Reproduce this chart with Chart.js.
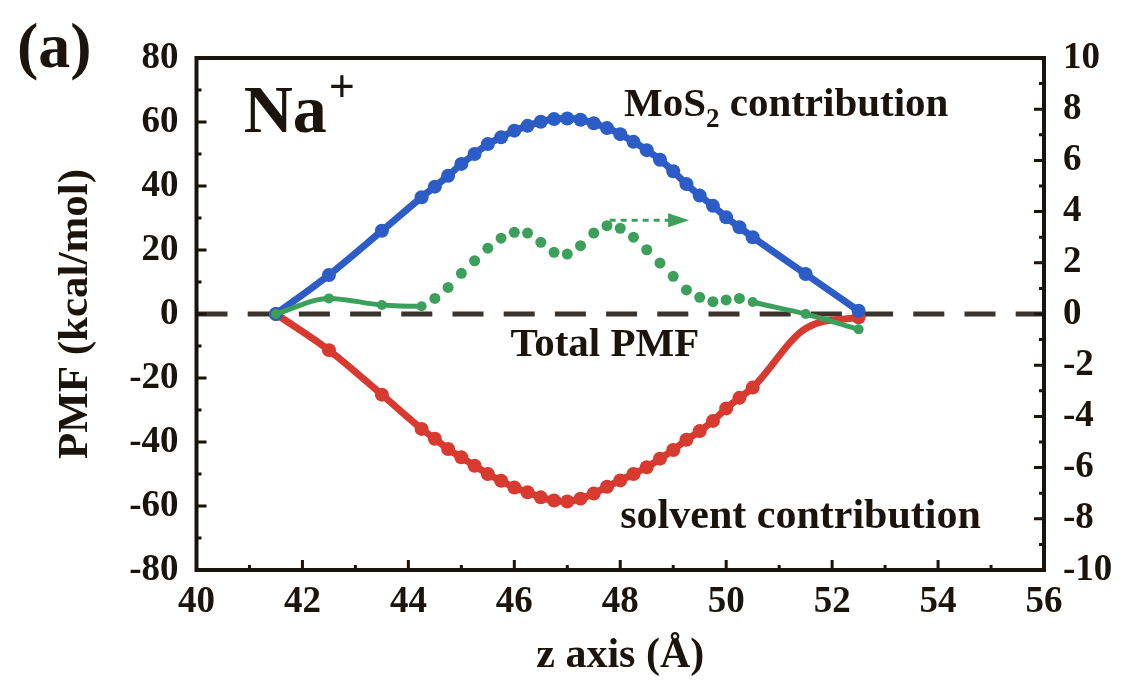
<!DOCTYPE html>
<html>
<head>
<meta charset="utf-8">
<script src="https://cdn.jsdelivr.net/npm/chart.js@4.4.1/dist/chart.umd.min.js"></script>
<style>
  html, body { margin: 0; padding: 0; background: #fff; }
  canvas { display: block; }
</style>
</head>
<body>
<canvas id="pmf" width="1144" height="687"></canvas>
<script>
// positions z (Å) des fenêtres
const zPos = [
  41.5, 42.5, 43.5, 44.25, 44.5, 44.75, 45.0, 45.25, 45.5, 45.75, 46.0,
  46.25, 46.5, 46.75, 47.0, 47.25, 47.5, 47.75, 48.0, 48.25, 48.5, 48.75,
  49.0, 49.25, 49.5, 49.75, 50.0, 50.25, 50.5, 51.5, 52.5
];
// contribution MoS2 (kcal/mol, axe gauche)
const mos2Contrib = [
  0, 12.2, 26.0, 36.5, 39.8, 43.2, 46.9, 50.0, 53.1, 55.2, 57.3,
  58.8, 60.1, 60.9, 61.1, 60.7, 59.6, 58.1, 56.2, 53.8, 51.2, 48.2,
  44.6, 40.6, 37.0, 33.8, 30.2, 27.1, 24.0, 12.5, 1.0
];
// contribution solvant (kcal/mol, axe gauche)
const solventContrib = [
  0, -11.3, -25.2, -35.9, -39.0, -42.2, -44.8, -47.4, -50.0, -52.1, -54.2,
  -55.7, -57.3, -58.3, -58.6, -57.7, -56.1, -54.0, -52.0, -50.0, -47.9, -45.2,
  -42.5, -39.3, -36.6, -33.4, -29.5, -26.2, -23.0, -4.5, -1.0
];
// PMF total (kcal/mol, axe droit)
const totalPmf = [
  0, 0.61, 0.35, 0.30, 0.61, 1.04, 1.59, 2.08, 2.57, 2.96, 3.19,
  3.16, 2.80, 2.41, 2.34, 2.67, 3.16, 3.45, 3.35, 3.00, 2.51, 1.99,
  1.47, 0.94, 0.65, 0.48, 0.55, 0.61, 0.47, 0, -0.60
];
// partie en pointillés du PMF total (points seuls)
const totalDotRange = [44.25, 50.5];
// point du solvant sans marqueur visible
const solventHidden = [51.5];

const xTicks = [40, 42, 44, 46, 48, 50, 52, 54, 56];
const yTicks = [-80, -60, -40, -20, 0, 20, 40, 60, 80];
const y2Ticks = [-10, -8, -6, -4, -2, 0, 2, 4, 6, 8, 10];

const FONT = "'Liberation Serif', 'Times New Roman', serif";
const INK = '#1b140d';
const BLUE = '#2c5cc6';
const RED = '#d83a30';
const GREEN = '#3ca05a';

const pts = vals => zPos.map((z, i) => ({ x: z, y: vals[i] }));
const inDots = z => z >= totalDotRange[0] && z <= totalDotRange[1];
const setTicks = list => s => { s.ticks = list.map(v => ({ value: v })); };

const tickFont = { family: FONT, size: 37, weight: 'bold' };

/** cadre, graduations internes, tirets à zéro, flèche et textes */
const decor = {
  id: 'decor',
  beforeDatasetsDraw(chart) {
    const { ctx, chartArea: a, scales: { y } } = chart;
    const y0 = y.getPixelForValue(0);
    ctx.save();
    ctx.strokeStyle = '#3a342d';
    ctx.lineWidth = 5;
    ctx.setLineDash([31, 20.2]);
    ctx.beginPath();
    ctx.moveTo(a.left, y0);
    ctx.lineTo(a.right, y0);
    ctx.stroke();
    ctx.restore();
  },
  afterDatasetsDraw(chart) {
    const { ctx, scales: { x, y2 } } = chart;
    // flèche vers l'axe de droite
    const x1 = x.getPixelForValue(47.8), x2 = x.getPixelForValue(49.3);
    const ya = y2.getPixelForValue(3.66);
    ctx.save();
    ctx.strokeStyle = GREEN;
    ctx.fillStyle = GREEN;
    ctx.lineWidth = 3;
    ctx.setLineDash([6, 5]);
    ctx.beginPath();
    ctx.moveTo(x1, ya);
    ctx.lineTo(x2 - 18, ya);
    ctx.stroke();
    ctx.setLineDash([]);
    ctx.beginPath();
    ctx.moveTo(x2, ya);
    ctx.lineTo(x2 - 21, ya - 7);
    ctx.lineTo(x2 - 21, ya + 7);
    ctx.closePath();
    ctx.fill();
    ctx.restore();
  },
  afterDraw(chart) {
    const { ctx, chartArea: a, scales: { x, y, y2 } } = chart;
    ctx.save();
    ctx.strokeStyle = INK;
    ctx.lineWidth = 4;
    ctx.strokeRect(a.left, a.top, a.right - a.left, a.bottom - a.top);

    ctx.lineWidth = 3;
    const marks = (scale, draw) => {
      const v = scale.ticks.map(t => t.value);
      v.forEach((val, i) => {
        draw(scale.getPixelForValue(val), 10);
        if (i < v.length - 1) draw(scale.getPixelForValue((val + v[i + 1]) / 2), 5);
      });
    };
    ctx.beginPath();
    marks(y, (p, l) => { ctx.moveTo(a.left, p); ctx.lineTo(a.left + l, p); });
    marks(y2, (p, l) => { ctx.moveTo(a.right, p); ctx.lineTo(a.right - l, p); });
    marks(x, (p, l) => { ctx.moveTo(p, a.bottom); ctx.lineTo(p, a.bottom - l); });
    ctx.stroke();

    // textes
    ctx.fillStyle = INK;
    ctx.textBaseline = 'alphabetic';
    ctx.textAlign = 'left';

    ctx.font = `bold 64px ${FONT}`;
    ctx.fillText('(a)', 17, 67);

    let px = x.getPixelForValue(40.89), py = y.getPixelForValue(56.9);
    ctx.font = `bold 68px ${FONT}`;
    ctx.fillText('Na', px, py);
    px += ctx.measureText('Na').width + 2;
    ctx.font = `bold 46px ${FONT}`;
    ctx.fillText('+', px, py - 30);

    px = x.getPixelForValue(48.07); py = y.getPixelForValue(61.9);
    ctx.font = `bold 41px ${FONT}`;
    ctx.fillText('MoS', px, py);
    px += ctx.measureText('MoS').width;
    ctx.font = `bold 27px ${FONT}`;
    ctx.fillText('2', px, py + 11);
    px += ctx.measureText('2').width;
    ctx.font = `bold 41px ${FONT}`;
    ctx.fillText(' contribution', px, py);

    ctx.fillText('Total PMF', x.getPixelForValue(45.93), y.getPixelForValue(-13.1));
    ctx.font = `bold 42px ${FONT}`;
    ctx.fillText('solvent contribution', x.getPixelForValue(48.0), y.getPixelForValue(-66.9));
    ctx.restore();
  }
};

new Chart(document.getElementById('pmf'), {
  type: 'line',
  data: {
    datasets: [
      {
        label: 'Total PMF',
        data: pts(totalPmf),
        yAxisID: 'y2',
        borderColor: GREEN,
        backgroundColor: GREEN,
        borderWidth: 5,
        pointRadius: c => {
          const z = zPos[c.dataIndex];
          return z > totalDotRange[0] && z < totalDotRange[1] ? 5.5 : 5;
        },
        pointBorderWidth: 0,
        cubicInterpolationMode: 'monotone',
        segment: {
          borderColor: c => inDots(c.p0.parsed.x) && inDots(c.p1.parsed.x) ? 'transparent' : GREEN
        }
      },
      {
        label: 'MoS2 contribution',
        data: pts(mos2Contrib),
        yAxisID: 'y',
        borderColor: BLUE,
        backgroundColor: BLUE,
        borderWidth: 7,
        pointRadius: 7,
        pointBorderWidth: 0,
        cubicInterpolationMode: 'monotone'
      },
      {
        label: 'solvent contribution',
        data: pts(solventContrib),
        yAxisID: 'y',
        borderColor: RED,
        backgroundColor: RED,
        borderWidth: 7,
        pointRadius: zPos.map(z => solventHidden.includes(z) ? 0 : 7),
        pointBorderWidth: 0,
        cubicInterpolationMode: 'monotone'
      }
    ]
  },
  options: {
    responsive: false,
    animation: false,
    devicePixelRatio: 1,
    layout: { padding: { top: 58, left: 0, right: 0, bottom: 0 } },
    plugins: { legend: { display: false }, tooltip: { enabled: false } },
    scales: {
      x: {
        type: 'linear',
        min: 40,
        max: 56,
        afterBuildTicks: setTicks(xTicks),
        afterFit: s => { s.height = 117; },
        grid: { display: false, drawTicks: false },
        border: { display: false },
        ticks: { font: tickFont, color: INK, padding: 10, maxRotation: 0, autoSkip: false },
        title: {
          display: true,
          text: 'z axis (Å)',
          color: INK,
          font: { family: FONT, size: 42, weight: 'bold' },
          padding: { top: 0, bottom: 6 }
        }
      },
      y: {
        position: 'left',
        min: -80,
        max: 80,
        afterBuildTicks: setTicks(yTicks),
        afterFit: s => { s.width = 196.5; },
        grid: { display: false, drawTicks: false },
        border: { display: false },
        ticks: { font: tickFont, color: INK, padding: 18, autoSkip: false },
        title: {
          display: true,
          text: 'PMF (kcal/mol)',
          color: INK,
          font: { family: FONT, size: 43, weight: 'bold' },
          padding: { top: 50, bottom: 0 }
        }
      },
      y2: {
        position: 'right',
        min: -10,
        max: 10,
        afterBuildTicks: setTicks(y2Ticks),
        afterFit: s => { s.width = 100; },
        grid: { display: false, drawTicks: false },
        border: { display: false },
        ticks: { font: tickFont, color: INK, padding: 19, autoSkip: false }
      }
    }
  },
  plugins: [decor]
});
</script>
</body>
</html>
